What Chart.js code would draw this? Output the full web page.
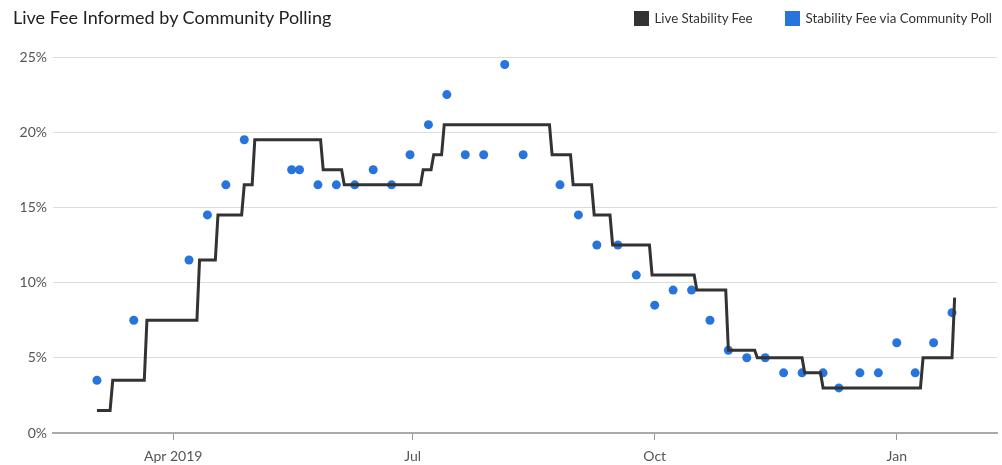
<!DOCTYPE html>
<html>
<head>
<meta charset="utf-8">
<script src="https://cdn.jsdelivr.net/npm/chart.js@4.4.1/dist/chart.umd.min.js"></script>
<style>
  html, body { margin: 0; padding: 0; background: #fff; }
  #wrap { position: relative; width: 1002px; height: 465px; font-family: Lato, "Open Sans", sans-serif; }
  #chart { position: absolute; left: 0; top: 0; }
  #title { position: absolute; left: 13px; top: 6px; font-size: 18px; color: #222; line-height: 22px; white-space: nowrap; }
  #legend { position: absolute; right: 10px; top: 10px; display: flex; align-items: center; font-size: 13.3px; color: #333; line-height: 17px; }
  #legend .item { display: flex; align-items: center; margin-left: 32px; }
  #legend .box { width: 15px; height: 15px; margin-right: 6px; }
</style>
</head>
<body>
<div id="wrap">
  <canvas id="chart" width="1002" height="465"></canvas>
  <div id="title">Live Fee Informed by Community Polling</div>
  <div id="legend"></div>
</div>
<script>
// Live stability fee (%), step changes
const feeDates = ['2019-03-03','2019-03-08','2019-03-09','2019-03-21','2019-03-22','2019-04-10','2019-04-11','2019-04-17','2019-04-18','2019-04-27','2019-04-28','2019-05-01','2019-05-02','2019-05-27','2019-05-28','2019-06-04','2019-06-05','2019-07-04','2019-07-05','2019-07-08','2019-07-09','2019-07-12','2019-07-13','2019-08-22','2019-08-23','2019-08-30','2019-08-31','2019-09-07','2019-09-08','2019-09-14','2019-09-15','2019-09-29','2019-09-30','2019-10-16','2019-10-17','2019-10-28','2019-10-29','2019-11-08','2019-11-09','2019-11-26','2019-11-27','2019-12-03','2019-12-04','2020-01-10','2020-01-11','2020-01-22','2020-01-23'];
const feeValues = [1.5,1.5,3.5,3.5,7.5,7.5,11.5,11.5,14.5,14.5,16.5,16.5,19.5,19.5,17.5,17.5,16.5,16.5,17.5,17.5,18.5,18.5,20.5,20.5,18.5,18.5,16.5,16.5,14.5,14.5,12.5,12.5,10.5,10.5,9.5,9.5,5.5,5.5,5,5,4,4,3,3,5,5,9];

// Community poll results (%)
const pollDates = ['2019-03-03','2019-03-17','2019-04-07','2019-04-14','2019-04-21','2019-04-28','2019-05-16','2019-05-19','2019-05-26','2019-06-02','2019-06-09','2019-06-16','2019-06-23','2019-06-30','2019-07-07','2019-07-14','2019-07-21','2019-07-28','2019-08-05','2019-08-12','2019-08-26','2019-09-02','2019-09-09','2019-09-17','2019-09-24','2019-10-01','2019-10-08','2019-10-15','2019-10-22','2019-10-29','2019-11-05','2019-11-12','2019-11-19','2019-11-26','2019-12-04','2019-12-10','2019-12-18','2019-12-25','2020-01-01','2020-01-08','2020-01-15','2020-01-22'];
const pollValues = [3.5,7.5,11.5,14.5,16.5,19.5,17.5,17.5,16.5,16.5,16.5,17.5,16.5,18.5,20.5,22.5,18.5,18.5,24.5,18.5,16.5,14.5,12.5,12.5,10.5,8.5,9.5,9.5,7.5,5.5,5,5,4,4,4,3,4,4,6,4,6,8];

// Axis ticks
const tickDates = ['2019-04-01','2019-07-01','2019-10-01','2020-01-01'];
const tickLabels = ['Apr 2019','Jul','Oct','Jan'];
const yTicks = [0, 5, 10, 15, 20, 25];

const seriesNames = ['Live Stability Fee', 'Stability Fee via Community Poll'];
const seriesColors = ['#333333', '#2874dd'];

const DAY = 86400000;
const dayNum = s => Date.UTC(+s.slice(0,4), +s.slice(5,7) - 1, +s.slice(8,10)) / DAY;

const feePoints = feeDates.map((d, i) => ({ x: dayNum(d), y: feeValues[i] }));
const pollPoints = pollDates.map((d, i) => ({ x: dayNum(d), y: pollValues[i] }));

// legend
const legend = document.getElementById('legend');
seriesNames.forEach((name, i) => {
  const item = document.createElement('div');
  item.className = 'item';
  const box = document.createElement('span');
  box.className = 'box';
  box.style.background = seriesColors[i];
  const txt = document.createElement('span');
  txt.textContent = name;
  item.appendChild(box);
  item.appendChild(txt);
  legend.appendChild(item);
});

const tickFont = { family: 'Lato, "Open Sans", sans-serif', size: 14 };

new Chart(document.getElementById('chart'), {
  type: 'line',
  data: {
    datasets: [
      {
        label: seriesNames[0],
        data: feePoints,
        borderColor: seriesColors[0],
        backgroundColor: seriesColors[0],
        borderWidth: 3,
        pointRadius: 0,
        tension: 0,
        borderJoinStyle: 'miter',
        borderCapStyle: 'butt',
        order: 0
      },
      {
        label: seriesNames[1],
        data: pollPoints,
        showLine: false,
        pointRadius: 4.5,
        pointHoverRadius: 4.5,
        pointBorderWidth: 0,
        pointBackgroundColor: seriesColors[1],
        borderColor: seriesColors[1],
        backgroundColor: seriesColors[1],
        order: 1
      }
    ]
  },
  options: {
    responsive: false,
    animation: false,
    layout: { padding: { top: 57, right: 5, left: 0, bottom: 0 } },
    plugins: { legend: { display: false }, title: { display: false }, tooltip: { enabled: false } },
    scales: {
      x: {
        type: 'linear',
        min: dayNum('2019-02-14') + 0.3,
        max: dayNum('2020-02-08') + 0.1,
        afterBuildTicks: s => { s.ticks = tickDates.map(d => ({ value: dayNum(d) })); },
        afterFit: s => { s.height = 32; },
        ticks: {
          autoSkip: false,
          maxRotation: 0,
          padding: 8,
          color: '#555',
          font: tickFont,
          callback: (v, i) => tickLabels[i]
        },
        grid: { drawOnChartArea: false, drawTicks: true, tickLength: 7, tickColor: '#999', tickWidth: 1 },
        border: { display: true, color: '#aaa', width: 2 }
      },
      y: {
        min: 0,
        max: 25,
        afterBuildTicks: s => { s.ticks = yTicks.map(v => ({ value: v })); },
        afterFit: s => { s.width = 53; },
        ticks: { padding: 6, color: '#555', font: tickFont, callback: v => v + '%' },
        grid: { color: '#dcdcdc', lineWidth: 1, drawTicks: false },
        border: { display: false }
      }
    }
  }
});
</script>
</body>
</html>
